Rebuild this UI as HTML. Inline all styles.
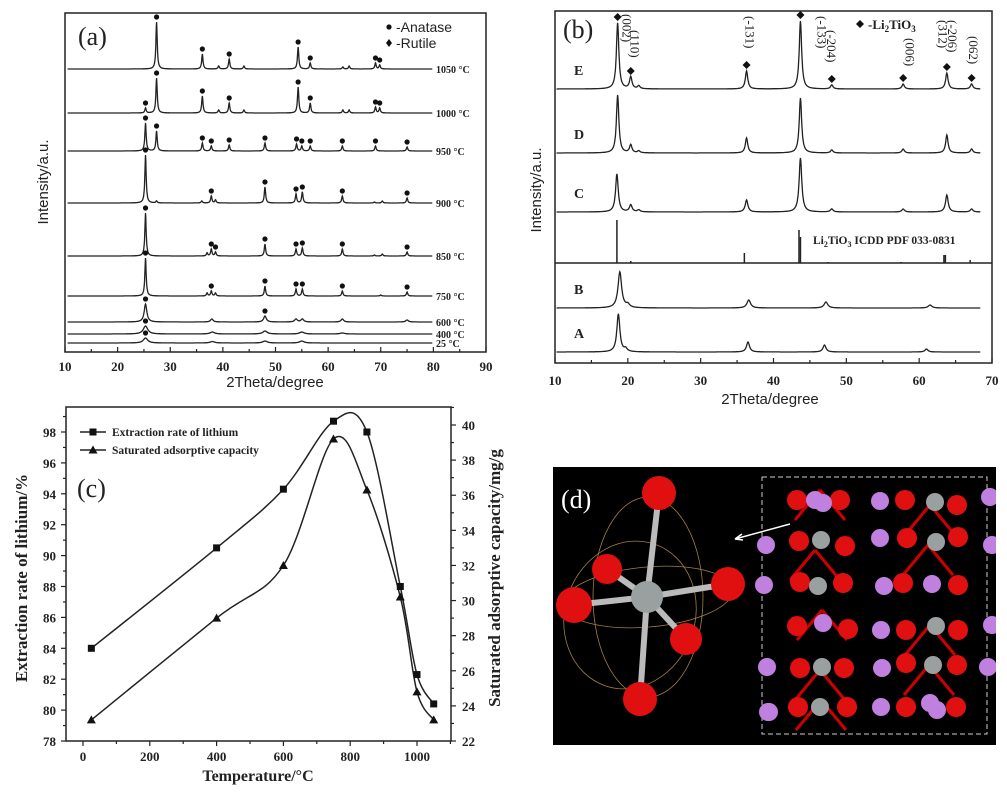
<!DOCTYPE html>
<html><head><meta charset="utf-8"><style>
html,body{margin:0;padding:0;background:#fff;}
svg{display:block;}
.ser{font-family:"Liberation Serif",serif;}
.san{font-family:"Liberation Sans",sans-serif;}
</style></head><body>
<svg id="fig" width="1007" height="800" viewBox="0 0 1007 800" xmlns="http://www.w3.org/2000/svg">
<defs><clipPath id="dclip"><rect x="553" y="467" width="443" height="278"/></clipPath></defs>
<rect width="1007" height="800" fill="#fff"/>
<g id="pa"></g>
<g id="pb"></g>
<g id="pc"></g>
<g id="pd" clip-path="url(#dclip)"></g>
</svg>
<script>
// ---------- Panel (a) data ----------
const aLabels = ["1050 °C","1000 °C","950 °C","900 °C","850 °C","750 °C","600 °C","400 °C","25 °C"];
const aBase = [69,113,151,203,256,296,322,334,343]; // baseline offsets (stack order, px)
const aPeaks = [
 [[27.4,47],[36.1,15],[39.2,3],[41.2,10],[44,3],[54.3,22],[56.6,6],[62.8,2],[64,3],[69,6],[69.8,4]],
 [[25.3,5],[27.4,35],[36.1,17],[39.2,3],[41.2,10],[44,3],[54.3,26],[56.6,10],[62.8,3],[64,3],[69,6],[69.8,5]],
 [[25.3,28],[27.4,20],[36.1,8],[37.8,5],[41.2,6],[48,8],[54,7],[55,5],[56.6,5],[62.7,5],[69,5],[75,4]],
 [[25.3,48],[27.4,2],[36,2],[37.8,7],[38.6,3],[48,16],[53.9,9],[55.1,11],[62.7,7],[68.8,1],[70.3,2],[75,5]],
 [[25.3,43],[37,3],[37.8,7],[38.6,4],[48,12],[53.9,7],[55.1,8],[62.7,7],[68.8,1],[70.3,2],[75,4]],
 [[25.3,38],[37,3],[37.8,5],[38.6,3],[48,10],[53.9,7],[55.1,7],[62.7,5],[70,1],[75,4]],
 [[25.3,18],[37.9,3],[48,6],[53.9,3],[55.1,3],[62.7,3],[75,2]],
 [[25.3,8],[38,2],[48,3],[55,2],[62.7,1]],
 [[25.3,5],[38,1.5],[48,2],[55,2]]
];
const aWidth = [0.15,0.15,0.15,0.15,0.15,0.15,0.3,0.5,0.5];
const aTicks = [10,20,30,40,50,60,70,80,90];

// ---------- Panel (b) data ----------
const bLabels = ["E","D","C","B","A"];
const bBase = [89,153,212,308,352];
const bPeaks = [
 [[18.6,66],[20.4,12],[21.5,3],[36.3,18],[43.7,68],[48,4],[57.8,5],[63.8,16],[67.2,5]],
 [[18.6,58],[20.4,8],[21.5,2],[36.3,15],[43.7,55],[48,3],[57.8,4],[63.8,18],[67.2,4]],
 [[18.5,38],[20.4,7],[21.5,2],[36.3,12],[43.7,54],[48,3],[57.8,3],[63.8,17],[67.2,3]],
 [[18.9,36],[20,3],[36.6,8],[47.2,6],[61.5,3]],
 [[18.7,38],[19.7,3],[36.5,10],[47,7],[61,3]]
];
const bWidth = [0.2,0.2,0.22,0.3,0.25];
const bStickPos = [18.5,20.4,36,43.5,43.7,47.5,57.5,63.4,63.6,67];
const bStickH = [43,2,10,33,26,1,1,8,8,3];
const bTicks = [10,20,30,40,50,60,70];
const bHkl = [["(002)",19.8,14],["(110)",20.9,30],["(-131)",36.7,16],["(-133)",46.6,16],["(-204)",47.9,30],["(006)",58.7,38],["(312)",63.2,20],["(-206)",64.5,20],["(062)",67.4,36]];

// ---------- Panel (c) data ----------
const cTemps = [25,400,600,750,850,950,1000,1050];
const cExtract = [84,90.5,94.3,98.7,98.0,88.0,82.3,80.4];
const cCapacity = [23.2,29,32,39.2,36.3,30.2,24.8,23.2];
const cXTicks = [0,200,400,600,800,1000];
const cYTicks = [78,80,82,84,86,88,90,92,94,96,98];
const cY2Ticks = [22,24,26,28,30,32,34,36,38,40];

const NS="http://www.w3.org/2000/svg";
function mk(parent,tag,attrs,text){const e=document.createElementNS(NS,tag);for(const k in attrs)e.setAttribute(k,attrs[k]);if(text!==undefined)e.textContent=text;parent.appendChild(e);return e;}

// ===== Panel A =====
(function(){
 const g=document.getElementById('pa');
 const L=65,R=486,T=13,B=352;
 const xa=v=>L+(v-10)*(R-L)/80;
 const fr=mk(g,'rect',{x:L,y:T,width:R-L,height:B-T,fill:'none',stroke:'#222','stroke-width':1.5});
 
 for(let v=10;v<=90;v+=5){const t=mk(g,'line',{x1:xa(v),x2:xa(v),y1:B,y2:B-(v%10?3:5),stroke:'#222','stroke-width':1.2});
  }
 aTicks.forEach(v=>{const t=mk(g,'text',{x:xa(v),y:371,'text-anchor':'middle','font-size':13,'font-weight':'bold',class:'ser',fill:'#222'},String(v));
  });
 const xt=mk(g,'text',{x:275,y:387,'text-anchor':'middle','font-size':15,class:'san',fill:'#222'},'2Theta/degree');
 
 const yt=mk(g,'text',{x:0,y:0,transform:'translate(48,182) rotate(-90)','text-anchor':'middle','font-size':15,class:'san',fill:'#222'},'Intensity/a.u.');
 
 aPeaks.forEach((pk,i)=>{
  let d='';const w=aWidth[i];
  for(let x=10.5;x<=79.8;x+=0.05){let y=0;pk.forEach(p=>{y+=p[1]/(1+((x-p[0])/w)**2);});d+=(d?'L':'M')+xa(x).toFixed(1)+','+(aBase[i]-y).toFixed(1);}
  const p=mk(g,'path',{d:d,fill:'none',stroke:'#222','stroke-width':1.3});
  
  pk.forEach(q=>{if(q[1]>=4){const c=mk(g,'circle',{cx:xa(q[0]),cy:aBase[i]-q[1]-5,r:2.6,fill:'#111'});
   }});
  const lb=mk(g,'text',{x:436,y:aBase[i]+4,'font-size':10,'font-weight':'bold',class:'ser',fill:'#222'},aLabels[i]);
  
 });
 const pl=mk(g,'text',{x:78,y:45,'font-size':26,class:'ser',fill:'#222'},'(a)');
 
 mk(g,'circle',{cx:389,cy:27,r:2.6,fill:'#111'});
 const l1=mk(g,'text',{x:396,y:32,'font-size':14,class:'san',fill:'#222'},'-Anatase');
 
 mk(g,'path',{d:'M389,39 l3,4 l-3,4 l-3,-4z',fill:'#111'});
 const l2=mk(g,'text',{x:396,y:48,'font-size':14,class:'san',fill:'#222'},'-Rutile');
 
})();

// ===== Panel B =====
(function(){
 const g=document.getElementById('pb');
 const L=555,R=992,T=11,B=363;
 const xb=v=>L+(v-10)*(R-L)/60;
 const fr=mk(g,'rect',{x:L,y:T,width:R-L,height:B-T,fill:'none',stroke:'#222','stroke-width':1.5});
 
 const sep=mk(g,'line',{x1:L,x2:R,y1:263,y2:263,stroke:'#222','stroke-width':1.4});
 
 for(let v=10;v<=70;v+=5){const t=mk(g,'line',{x1:xb(v),x2:xb(v),y1:B,y2:B-(v%10?3:5),stroke:'#222','stroke-width':1.2});
  }
 bTicks.forEach(v=>{const t=mk(g,'text',{x:xb(v),y:385,'text-anchor':'middle','font-size':13,'font-weight':'bold',class:'ser',fill:'#222'},String(v));
  });
 const xt=mk(g,'text',{x:770,y:404,'text-anchor':'middle','font-size':15,class:'san',fill:'#222'},'2Theta/degree');
 
 const yt=mk(g,'text',{x:0,y:0,transform:'translate(541,190) rotate(-90)','text-anchor':'middle','font-size':15,class:'san',fill:'#222'},'Intensity/a.u.');
 
 bPeaks.forEach((pk,i)=>{
  let d='';const w=bWidth[i];
  for(let x=10.2;x<=68.4;x+=0.05){let y=0;pk.forEach(p=>{y+=p[1]/(1+((x-p[0])/w)**2);});d+=(d?'L':'M')+xb(x).toFixed(1)+','+(bBase[i]-y).toFixed(1);}
  const p=mk(g,'path',{d:d,fill:'none',stroke:'#222','stroke-width':1.3});
  
  const lb=mk(g,'text',{x:574,y:bBase[i]-14,'font-size':14,'font-weight':'bold',class:'ser',fill:'#222'},bLabels[i]);
  
 });
 bStickPos.forEach((v,i)=>{const s=mk(g,'line',{x1:xb(v),x2:xb(v),y1:263,y2:263-bStickH[i],stroke:'#222','stroke-width':1.5});
  });
 const ic=mk(g,'text',{x:813,y:244,'font-size':11.5,'font-weight':'bold',class:'ser',fill:'#222'});
 
 ic.innerHTML='Li<tspan font-size="8" dy="3">2</tspan><tspan dy="-3">TiO</tspan><tspan font-size="8" dy="3">3</tspan><tspan dy="-3"> ICDD PDF 033-0831</tspan>';
 bPeaks[0].forEach(q=>{if(q[1]>=4){const c=mk(g,'path',{d:`M${xb(q[0])},${bBase[0]-q[1]-10} l4,4 l-4,4 l-4,-4z`,fill:'#111'});
  }});
 bHkl.forEach(h=>{const t=mk(g,'text',{x:0,y:0,transform:`translate(${xb(h[1])-4},${h[2]}) rotate(90)`,'font-size':13,class:'ser',fill:'#222'},h[0]);
  });
 const pl=mk(g,'text',{x:563,y:38,'font-size':26,class:'ser',fill:'#222'},'(b)');
 
 mk(g,'path',{d:'M860,20 l4,4 l-4,4 l-4,-4z',fill:'#111'});
 const lg=mk(g,'text',{x:868,y:29,'font-size':13,'font-weight':'bold',class:'ser',fill:'#222'});
 
 lg.innerHTML='-Li<tspan font-size="9" dy="3">2</tspan><tspan dy="-3">TiO</tspan><tspan font-size="9" dy="3">3</tspan>';
})();

// ===== Panel C =====
(function(){
 const g=document.getElementById('pc');
 const L=66,R=451,T=407,B=741;
 const xc=v=>83+v*(417-83)/1000;
 const yl=v=>741-(v-78)*(741-432)/20;
 const yr=v=>741-(v-22)*(741-425)/18;
 const fr=mk(g,'rect',{x:L,y:T,width:R-L,height:B-T,fill:'none',stroke:'#222','stroke-width':1.5});
 
 for(let v=0;v<=1100;v+=100){const t=mk(g,'line',{x1:xc(v),x2:xc(v),y1:B,y2:B+(v%200?3:5),stroke:'#222','stroke-width':1.2});
  }
 cXTicks.forEach(v=>{const t=mk(g,'text',{x:xc(v),y:761,'text-anchor':'middle','font-size':13,'font-weight':'bold',class:'ser',fill:'#222'},String(v));
  });
 for(let v=78;v<=99;v+=1){const t=mk(g,'line',{x1:L,x2:L-(v%2?3:5),y1:yl(v),y2:yl(v),stroke:'#222','stroke-width':1.2});
  }
 cYTicks.forEach(v=>{const t=mk(g,'text',{x:56,y:yl(v)+5,'text-anchor':'end','font-size':13,'font-weight':'bold',class:'ser',fill:'#222'},String(v));
  });
 for(let v=22;v<=41;v+=1){const t=mk(g,'line',{x1:R,x2:R+(v%2?3:5),y1:yr(v),y2:yr(v),stroke:'#222','stroke-width':1.2});
  }
 cY2Ticks.forEach(v=>{const t=mk(g,'text',{x:462,y:yr(v)+5,'font-size':13,'font-weight':'bold',class:'ser',fill:'#222'},String(v));
  });
 const xt=mk(g,'text',{x:258,y:781,'text-anchor':'middle','font-size':16,'font-weight':'bold',class:'ser',fill:'#222'},'Temperature/°C');
 
 const yt=mk(g,'text',{x:0,y:0,transform:'translate(27,578) rotate(-90)','text-anchor':'middle','font-size':17,'font-weight':'bold',class:'ser',fill:'#222'},'Extraction rate of lithium/%');
 
 const y2=mk(g,'text',{x:0,y:0,transform:'translate(500,578) rotate(-90)','text-anchor':'middle','font-size':17,'font-weight':'bold',class:'ser',fill:'#222'},'Saturated adsorptive capacity/mg/g');
 
 function spline(pts){let d='M'+pts[0][0]+','+pts[0][1];
  for(let i=0;i<pts.length-1;i++){const p0=pts[Math.max(0,i-1)],p1=pts[i],p2=pts[i+1],p3=pts[Math.min(pts.length-1,i+2)];
   const c1=[p1[0]+(p2[0]-p0[0])/6,p1[1]+(p2[1]-p0[1])/6],c2=[p2[0]-(p3[0]-p1[0])/6,p2[1]-(p3[1]-p1[1])/6];
   d+=`C${c1[0].toFixed(1)},${c1[1].toFixed(1)} ${c2[0].toFixed(1)},${c2[1].toFixed(1)} ${p2[0].toFixed(1)},${p2[1].toFixed(1)}`;}
  return d;}
 const p1=cTemps.map((t,i)=>[xc(t),yl(cExtract[i])]);
 const p2=cTemps.map((t,i)=>[xc(t),yr(cCapacity[i])]);
 const s1=mk(g,'path',{d:spline(p1),fill:'none',stroke:'#222','stroke-width':1.5});
 
 const s2=mk(g,'path',{d:spline(p2),fill:'none',stroke:'#222','stroke-width':1.5});
 
 p1.forEach(p=>{const m=mk(g,'rect',{x:p[0]-3.5,y:p[1]-3.5,width:7,height:7,fill:'#111'});
  });
 p2.forEach(p=>{const m=mk(g,'path',{d:`M${p[0]},${p[1]-4.5} l4.5,8 l-9,0z`,fill:'#111'});
  });
 mk(g,'line',{x1:80,x2:106,y1:432,y2:432,stroke:'#222','stroke-width':1.5});
 mk(g,'rect',{x:89.5,y:428.5,width:7,height:7,fill:'#111'});
 const l1=mk(g,'text',{x:112,y:436,'font-size':11.5,'font-weight':'bold',class:'ser',fill:'#222'},'Extraction rate of lithium');
 
 mk(g,'line',{x1:80,x2:106,y1:450,y2:450,stroke:'#222','stroke-width':1.5});
 mk(g,'path',{d:'M93,445.5 l4.5,8 l-9,0z',fill:'#111'});
 const l2=mk(g,'text',{x:112,y:454,'font-size':11.5,'font-weight':'bold',class:'ser',fill:'#222'},'Saturated adsorptive capacity');
 
 const pl=mk(g,'text',{x:77,y:497,'font-size':26,class:'ser',fill:'#222'},'(c)');
 
})();

// ===== Panel D (illustration) =====
(function(){
 const g=document.getElementById('pd');
 const bg=mk(g,'rect',{x:553,y:467,width:443,height:278,fill:'#000'});
 
 const el=[[648,597,55,100,0],[648,597,85,30,-5],[630,615,65,75,20]];
 el.forEach(e=>mk(g,'ellipse',{cx:e[0],cy:e[1],rx:e[2],ry:e[3],transform:`rotate(${e[4]} ${e[0]} ${e[1]})`,fill:'none',stroke:'#a08040','stroke-width':0.8}));
 const O=[[659,493,17],[607,569,15],[574,605,18],[728,584,17],[686,639,16],[640,699,17]];
 O.forEach(o=>mk(g,'line',{x1:647,y1:597,x2:o[0],y2:o[1],stroke:'#bbb','stroke-width':6}));
 O.forEach(o=>mk(g,'circle',{cx:o[0],cy:o[1],r:o[2],fill:'#e01010'}));
 mk(g,'circle',{cx:647,cy:597,r:16,fill:'#9aa0a0'});
 const arr=mk(g,'path',{d:'M790,524 L735,539 M735,539 l7,-5 M735,539 l8,1',stroke:'#fff','stroke-width':1.5,fill:'none'});
 
 mk(g,'rect',{x:762,y:477,width:225,height:257,fill:'none',stroke:'#ccc','stroke-width':1,'stroke-dasharray':'5,3'});
 [[820,490],[815,550],[822,610],[820,670],[821,700],[930,505],[928,545],[930,625],[929,665]].forEach(p=>{
  [[-25,0],[25,0]].forEach(o=>{mk(g,'line',{x1:p[0],y1:p[1],x2:p[0]+o[0],y2:p[1]+o[1]+30,stroke:'#c00','stroke-width':3});});});
 [[797,500],[840,500],[799,541],[845,546],[800,582],[843,583],[797,626],[848,629],[800,668],[844,668],[798,707],[847,707],[905,500],[957,505],[907,538],[958,537],[903,583],[958,585],[906,630],[958,630],[906,663],[957,665],[906,707],[956,707]].forEach(p=>mk(g,'circle',{cx:p[0],cy:p[1],r:10,fill:'#e01010'}));
 [[821,540],[818,586],[822,667],[820,707],[935,502],[936,542],[936,626],[933,665]].forEach(p=>mk(g,'circle',{cx:p[0],cy:p[1],r:9,fill:'#9aa0a0'}));
 [[815,500],[823,503],[880,501],[880,538],[766,545],[764,585],[884,586],[823,623],[881,630],[767,667],[882,668],[881,707],[768,712],[990,497],[992,545],[932,584],[992,625],[988,667],[930,703],[937,710],[769,712]].forEach(p=>mk(g,'circle',{cx:p[0],cy:p[1],r:9,fill:'#c080e0'}));
 const pl=mk(g,'text',{x:561,y:508,'font-size':26,class:'ser',fill:'#fff'},'(d)');
 
})();
</script>
</body></html>
